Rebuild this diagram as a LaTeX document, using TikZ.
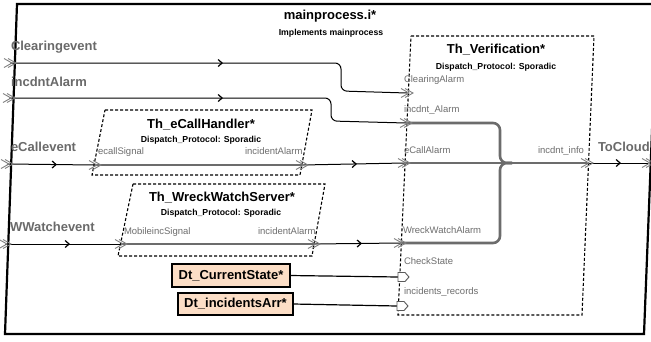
\documentclass[tikz,border=0pt]{standalone}
\usepackage{fontspec}
\setmainfont{Liberation Sans}
\usetikzlibrary{arrows.meta,decorations.markings}
\definecolor{lblgray}{HTML}{6A6A6A}
\definecolor{portlbl}{HTML}{6E6E6E}
\definecolor{linkgray}{HTML}{6C6C6C}
\definecolor{peach}{HTML}{FCDEC6}
\definecolor{chev}{HTML}{808080}
\begin{document}
\begin{tikzpicture}[x=1pt,y=-1pt,
  every node/.style={inner sep=0pt, outer sep=0pt},
  frame/.style={line width=2.2pt, line join=miter},
  thread/.style={draw=black, line width=1.1pt, dash pattern=on 3pt off 2pt},
  bigl/.style={font=\fontsize{13}{15}\selectfont\bfseries, text=lblgray, anchor=base west},
  title/.style={font=\fontsize{13}{15}\selectfont\bfseries, anchor=base},
  small/.style={font=\fontsize{8.7}{10}\selectfont\bfseries, anchor=base},
  plbl/.style={font=\fontsize{9.5}{11}\selectfont, text=portlbl, anchor=base west},
  conn/.style={line width=1pt},
  thickconn/.style={line width=2.6pt, draw=linkgray},
  arrowat/.style={postaction={decorate, decoration={markings, mark=at position #1 with {\arrow{Straight Barb[length=4pt,width=7pt,line width=1.2pt]}}}}},
  dtbox/.style={draw=black, line width=1.6pt, fill=peach, font=\fontsize{13}{15}\selectfont\bfseries},
  evport/.pic={\draw[chev, line width=0.9pt] (-6,-4.5) -- (2,0) -- (-6,4.5); \draw[chev, line width=0.9pt] (-2,-4.5) -- (6,0) -- (-2,4.5);},
  dport/.pic={\draw[draw=chev!70!black, fill=white, line width=0.9pt] (0,-4.5) -- (7,-4.5) -- (11,0) -- (7,4.5) -- (0,4.5) -- cycle;}
]
\useasboundingbox (0,0) rectangle (651,341);
\clip (0,0) rectangle (651,341);
\fill[white] (0,0) rectangle (651,341);

% outer frame
\draw[frame] (657,4) -- (17,4) -- (5,334) -- (644,334) -- cycle;

% thread boxes
\draw[thread] (105,110) -- (312,110) -- (300,175) -- (92,175) -- cycle;
\draw[thread] (133,184) -- (325,184) -- (312,256) -- (118,256) -- cycle;
\draw[thread] (411,36) -- (594,36) -- (582,315) -- (398,315) -- cycle;

% data boxes
\node[dtbox, minimum width=118pt, minimum height=23pt] (dtcs) at (231,275.5) {Dt\_CurrentState*};
\node[dtbox, minimum width=115pt, minimum height=22pt] (dtir) at (235.5,304) {Dt\_incidentsArr*};

% ports
\coordinate (inCE) at (10,63);
\coordinate (inIA) at (9,98);
\coordinate (inEC) at (7,164);
\coordinate (inWW) at (5,244);
\coordinate (ehIn) at (95,165);
\coordinate (ehOut) at (302,165);
\coordinate (wwIn) at (121,244);
\coordinate (wwOut) at (314,244);
\coordinate (vCA) at (407,93);
\coordinate (vIA) at (406,123);
\coordinate (vEC) at (404,163);
\coordinate (vWW) at (400,243);
\coordinate (vCS) at (398,277);
\coordinate (vIR) at (397,306);
\coordinate (vOut) at (587,163);
\coordinate (tcOut) at (648,163);

% connections
\draw[conn, rounded corners=6, arrowat=213pt] (inCE) -- (341,63) -- (341,91) -- (vCA);
\draw[conn, rounded corners=6, arrowat=214pt] (inIA) -- (331,98) -- (331,121) -- (vIA);
\draw[conn, arrowat=50pt] (inEC) -- (ehIn);
\draw[thickconn] (ehIn) -- (ehOut);
\draw[conn, arrowat=55pt] (ehOut) -- (vEC);
\draw[thickconn] (vEC) -- (vOut);
\draw[thickconn, rounded corners=7] (vIA) -- (500,123) -- (500,163) -- (512,163);
\draw[thickconn, rounded corners=7] (vWW) -- (500,243) -- (500,163) -- (512,163);
\draw[conn, arrowat=34pt] (vOut) -- (tcOut);
\draw[conn, arrowat=65pt] (inWW) -- (wwIn);
\draw[thickconn] (wwIn) -- (wwOut);
\draw[conn, arrowat=48pt] (wwOut) -- (vWW);
\draw[line width=1.2pt] (dtcs.east) -- (vCS);
\draw[line width=1.2pt] (dtir.east) -- (vIR);

% port symbols
\foreach \p in {inCE,inIA,inEC,inWW,ehIn,ehOut,wwIn,wwOut,vCA,vIA,vEC,vWW,vOut,tcOut}
  \pic at (\p) {evport};
\pic at (vCS) {dport};
\pic at (vIR) {dport};

% texts
\node[title] (mp) at (330,19) {mainprocess.i*};
\node[small] (impl) at (331,35) {Implements mainprocess};
\node[bigl] (lce) at (11,50) {Clearingevent};
\node[bigl] (lia) at (11,86) {incdntAlarm};
\node[bigl] (lec) at (11,151) {eCallevent};
\node[bigl] (lww) at (10,231) {WWatchevent};
\node[bigl] (ltc) at (598,151) {ToCloud};

\node[title] (teh) at (201,128) {Th\_eCallHandler*};
\node[small] (deh) at (201,142) {Dispatch\_Protocol: Sporadic};
\node[plbl] (peh1) at (98,154) {ecallSignal};
\node[plbl] (peh2) at (245,154) {incidentAlarm};

\node[title] (tww) at (222,201) {Th\_WreckWatchServer*};
\node[small] (dww) at (221,215.5) {Dispatch\_Protocol: Sporadic};
\node[plbl] (pww1) at (124,234) {MobileincSignal};
\node[plbl] (pww2) at (258,234) {incidentAlarm};

\node[title] (tv) at (496,53) {Th\_Verification*};
\node[small] (dv) at (496,69.5) {Dispatch\_Protocol: Sporadic};
\node[plbl] (pv1) at (404,82) {ClearingAlarm};
\node[plbl] (pv2) at (404,112) {incdnt\_Alarm};
\node[plbl] (pv3) at (404,153) {eCallAlarm};
\node[plbl, anchor=base east] (pv4) at (584,153) {incdnt\_info};
\node[plbl] (pv5) at (403,233) {WreckWatchAlarm};
\node[plbl] (pv6) at (404,264) {CheckState};
\node[plbl] (pv7) at (404,294) {incidents\_records};
\end{tikzpicture}
\end{document}
